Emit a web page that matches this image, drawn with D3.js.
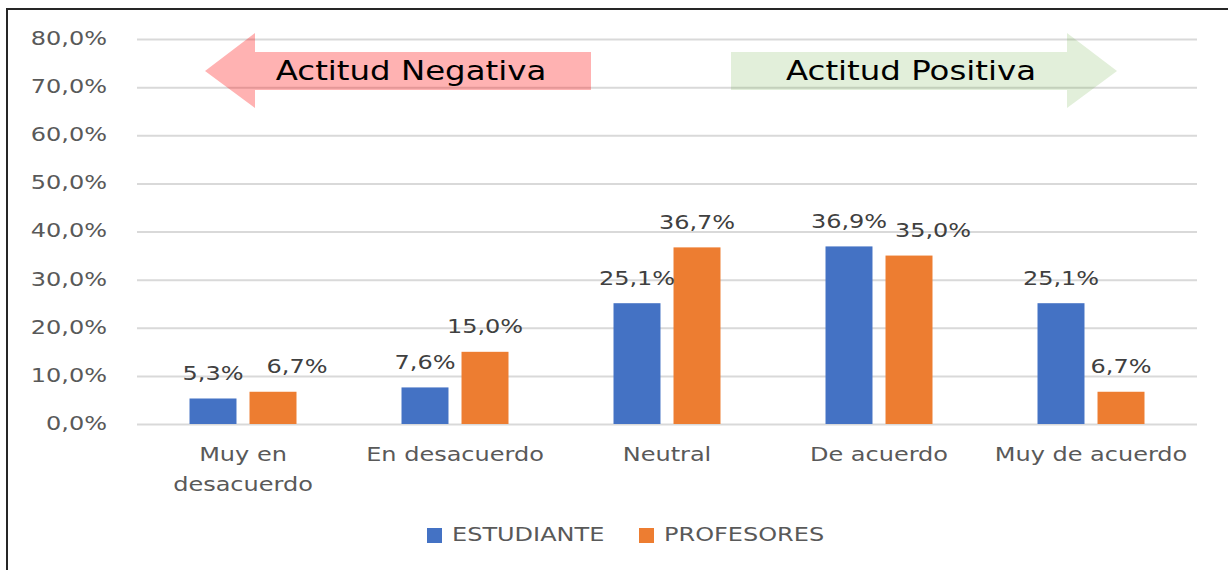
<!DOCTYPE html>
<html>
<head>
<meta charset="utf-8">
<script src="https://cdn.jsdelivr.net/npm/d3@7"></script>
<style>
  html, body { margin: 0; padding: 0; background: #fff; }
  svg { display: block; }
  text { font-family: "DejaVu Sans", sans-serif; }
</style>
</head>
<body>
<svg id="chart" width="1228" height="570"></svg>
<script>
const categories = ["Muy en desacuerdo", "En desacuerdo", "Neutral", "De acuerdo", "Muy de acuerdo"];
const seriesNames = ["ESTUDIANTE", "PROFESORES"];
const estudiante = [5.3, 7.6, 25.1, 36.9, 25.1];
const profesores = [6.7, 15.0, 36.7, 35.0, 6.7];
const yTicks = [0, 10, 20, 30, 40, 50, 60, 70, 80];
const colors = ["#4472C4", "#ED7D31"];

const SX = 1.2; // picture text is wide, stretch it a bit
const plotL = 137, plotR = 1197, plotT = 39, plotB = 424;

const locale = d3.formatLocale({ decimal: ",", thousands: ".", grouping: [3], currency: ["", "€"] });
const fmt = v => locale.format(".1f")(v) + "%";

const svg = d3.select("#chart");

// frame
svg.append("path")
  .attr("d", "M7,570V9H1228")
  .attr("fill", "none")
  .attr("stroke", "#262626")
  .attr("stroke-width", 2);

const x = d3.scaleBand().domain(categories).range([plotL, plotR]).padding(0);
const x1 = d3.scaleBand().domain(seriesNames).range([0, x.bandwidth()])
  .paddingInner(0.217).paddingOuter(0.875);
const y = d3.scaleLinear().domain([0, 80]).range([plotB, plotT]);

// y axis + gridlines
const yAxis = svg.append("g")
  .attr("transform", `translate(${plotL},0)`)
  .call(d3.axisLeft(y).tickValues(yTicks).tickFormat(fmt).tickSize(-(plotR - plotL)).tickPadding(0));
yAxis.select(".domain").remove();
yAxis.selectAll(".tick line").attr("stroke", "#d9d9d9").attr("stroke-width", 2);
yAxis.selectAll(".tick text")
  .attr("x", null).attr("dy", null)
  .attr("dominant-baseline", "middle")
  .attr("text-anchor", "end")
  .attr("transform", `translate(-30,0) scale(${SX},1)`)
  .attr("fill", "#595959")
  .style("font-size", "20px")
  .style("font-family", "DejaVu Sans");

// annotation arrows (drawn over grid, semi transparent)
function arrow(x0, xb, tip) {
  // x0: shaft end, xb: head base, tip: arrow point
  const sTop = 52, sBot = 90, hTop = 33, hBot = 108, mid = 71;
  return `M${x0},${sTop}H${xb}V${hTop}L${tip},${mid}L${xb},${hBot}V${sBot}H${x0}Z`;
}
svg.append("path").attr("d", arrow(591, 255, 205)).attr("fill", "#ff0000").attr("fill-opacity", 0.3);
svg.append("path").attr("d", arrow(731, 1067, 1117)).attr("fill", "#70AD47").attr("fill-opacity", 0.2);
[["Actitud Negativa", 411], ["Actitud Positiva", 911]].forEach(([t, cx]) => {
  svg.append("text")
    .attr("transform", `translate(${cx},72) scale(${SX},1)`)
    .attr("text-anchor", "middle")
    .attr("dominant-baseline", "middle")
    .attr("fill", "#000")
    .style("font-size", "27px")
    .text(t);
});

// bars
const series = [estudiante, profesores];
const groups = svg.append("g").selectAll("g")
  .data(categories)
  .join("g")
  .attr("transform", d => `translate(${x(d)},0)`);

groups.selectAll("rect")
  .data((d, i) => seriesNames.map((s, k) => ({ s, k, v: series[k][i] })))
  .join("rect")
  .attr("x", d => x1(d.s))
  .attr("y", d => y(d.v))
  .attr("width", x1.bandwidth())
  .attr("height", d => y(0) - y(d.v))
  .attr("fill", d => colors[d.k]);

// data labels
groups.each(function (cat, i) {
  const g = d3.select(this);
  const labels = seriesNames.map((s, k) => {
    const v = series[k][i];
    const t = g.append("text")
      .attr("text-anchor", "middle")
      .attr("dominant-baseline", "middle")
      .attr("fill", "#404040")
      .style("font-size", "20px")
      .text(fmt(v));
    return { t, cx: x1(s) + x1.bandwidth() / 2, cy: y(v) - 24, w: t.node().getComputedTextLength() * SX };
  });
  // nudge the second label when the two collide (like Excel does)
  const [a, b] = labels;
  if (Math.abs(a.cy - b.cy) < 20 && (a.cx + a.w / 2) > (b.cx - b.w / 2)) b.cx += 24;
  labels.forEach(l => l.t.attr("transform", `translate(${l.cx},${l.cy}) scale(${SX},1)`));
});

// x axis labels
const xAxis = svg.append("g")
  .attr("transform", `translate(0,${plotB})`)
  .call(d3.axisBottom(x).tickSize(0).tickPadding(0));
xAxis.select(".domain").remove();
xAxis.selectAll(".tick text").each(function (d) {
  const t = d3.select(this);
  t.text(null).attr("y", null).attr("dy", null)
    .attr("text-anchor", "middle")
    .attr("fill", "#595959")
    .style("font-size", "20px")
    .style("font-family", "DejaVu Sans")
    .attr("transform", `scale(${SX},1)`);
  // greedy wrap to the band width
  const words = d.split(" ");
  const lines = [];
  let line = [];
  const probe = t.append("tspan");
  words.forEach(w => {
    const test = line.concat(w).join(" ");
    probe.text(test);
    if (probe.node().getComputedTextLength() * SX > x.bandwidth() && line.length) {
      lines.push(line.join(" "));
      line = [w];
    } else line.push(w);
  });
  lines.push(line.join(" "));
  probe.remove();
  lines.forEach((l, j) => {
    t.append("tspan").attr("x", 0).attr("y", 32 + j * 30)
      .attr("dominant-baseline", "middle").text(l);
  });
});

// legend
const legend = svg.append("g");
const legendPos = [427, 639];
seriesNames.forEach((s, k) => {
  legend.append("rect")
    .attr("x", legendPos[k]).attr("y", 528)
    .attr("width", 15).attr("height", 15)
    .attr("fill", colors[k]);
  legend.append("text")
    .attr("transform", `translate(${legendPos[k] + 25},536) scale(${SX},1)`)
    .attr("dominant-baseline", "middle")
    .attr("fill", "#595959")
    .style("font-size", "20px")
    .text(s);
});
</script>
</body>
</html>
